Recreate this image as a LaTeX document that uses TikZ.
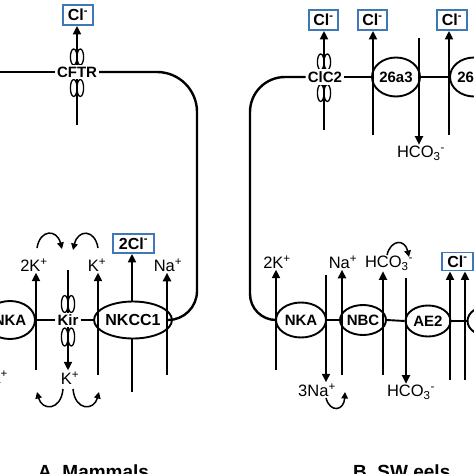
\documentclass[tikz,border=0pt]{standalone}
\usepackage{fontspec}
\setmainfont{Liberation Sans}
\usetikzlibrary{arrows.meta,shapes.geometric}
\definecolor{boxblue}{RGB}{62,120,182}

\begin{document}
\begin{tikzpicture}[x=1pt, y=-1pt,
     every node/.style={font=\fontsize{16.5}{18}\selectfont, inner sep=1pt},
     mem/.style={line width=2.4pt},
     link/.style={line width=1.9pt},
     flux/.style={line width=1.9pt, -{Triangle[length=8.5pt,width=8pt]}},
     swap/.style={line width=1.5pt, -{Triangle[length=6.5pt,width=6.5pt]}},
     pump/.style={ellipse, draw, line width=1.9pt, fill=white, inner sep=0pt, font=\fontsize{15}{16}\selectfont\bfseries},
     chan/.style={fill=white, inner sep=2pt, font=\fontsize{15}{16}\selectfont\bfseries},
     coil/.style={line width=1.3pt},
     ion/.style={draw=boxblue, line width=1.8pt, minimum height=20pt, inner sep=2.5pt, font=\fontsize{16}{17}\selectfont\bfseries},
     title/.style={font=\fontsize{19}{20}\selectfont\bfseries}]

  \useasboundingbox (0,0) rectangle (474,474);

  % ---------- A  Mammals ----------
  % apical side
  \node[chan] (cftr) at (77,72) {CFTR};
  \node[ion, minimum width=30pt] (clA) at (78,15) {Cl\textsuperscript{-}};
  \coordinate (cftrIn) at (77,125);
  \draw[flux] (cftrIn) -- (cftrIn |- clA.south);
  \foreach \dx in {-3.3,3.3} {
    \draw[coil] (77+\dx,57) ellipse (3.3 and 8);
    \draw[coil] (77+\dx,88) ellipse (3.3 and 8.5);
  }
  \node[chan] at (cftr) {CFTR};

  % basolateral side
  \node[pump, minimum width=50pt, minimum height=38pt] (nkaA) at (10,320) {NKA};
  \node[pump, minimum width=70pt, minimum height=37pt, font=\fontsize{16}{17}\selectfont\bfseries] (nkcc) at (133,320) {NKCC1};
  \node[chan] (kir) at (68,320) {Kir};
  \draw[mem] (0,72) -- (cftr.west);
  \draw[mem, rounded corners=40pt] (cftr.east) -- (197,72) -- (197,291);
  \draw[mem] (197,291) arc[start angle=0, end angle=90, radius=29] -- (nkcc.east);
  \draw[link] (nkaA.east) -- (kir.west);
  \draw[link] (kir.east) -- (nkcc.west);

  \node (k2A) at (34,265) {2K\textsuperscript{+}};
  \node (kA) at (97,265) {K\textsuperscript{+}};
  \node[ion, minimum width=41pt, minimum height=19pt] (cl2A) at (133.5,243.5) {2Cl\textsuperscript{-}};
  \node (naA) at (168,265) {Na\textsuperscript{+}};
  \node (kOut) at (70,378) {K\textsuperscript{+}};
  \node[anchor=east] (na3A) at (9,377) {3Na\textsuperscript{+}};

  \coordinate (k2Ain) at (36,370);
  \coordinate (kAin) at (98,375);
  \coordinate (clAin) at (132,392);
  \coordinate (naAin) at (167,375);
  \coordinate (kirTop) at (68,270);
  \draw[flux] (k2Ain) -- (k2Ain |- k2A.south);
  \draw[flux] (kAin) -- (kAin |- kA.south);
  \draw[link] (clAin) -- (clAin |- nkcc.south);
  \draw[flux] (clAin |- nkcc.north) -- (clAin |- cl2A.south);
  \draw[flux] (naAin) -- (naAin |- naA.south);
  \draw[flux] (kirTop) -- (kirTop |- kOut.north);
  \foreach \dx in {-3.3,3.3} {
    \draw[coil] (68+\dx,304) ellipse (3.3 and 8.5);
    \draw[coil] (68+\dx,337) ellipse (3.3 and 9);
  }
  \node[chan] at (kir) {Kir};

  % K+ recycling
  \coordinate (r1) at (37,248);  \coordinate (r2) at (62,249);
  \coordinate (r3) at (98,248);  \coordinate (r4) at (73,250);
  \coordinate (r5) at (63,389);  \coordinate (r6) at (37,392);
  \coordinate (r7) at (73,389);  \coordinate (r8) at (99,392);
  \draw[swap] (r1) .. controls (40,229) and (57,229) .. (r2);
  \draw[swap] (r3) .. controls (95,229) and (78,229) .. (r4);
  \draw[swap] (r5) .. controls (61,411) and (42,411) .. (r6);
  \draw[swap] (r7) .. controls (75,411) and (94,411) .. (r8);

  \node[title, anchor=west] (titleA) at (37,472) {A\ \ Mammals};

  % ---------- B  SW eels ----------
  % apical side
  \node[chan] (clc) at (325,77) {ClC2};
  \node[pump, minimum width=48pt, minimum height=39pt] (a3) at (396,77) {26a3};
  \node[pump, minimum width=48pt, minimum height=39pt] (a6) at (474,77) {26a6};
  \draw[link] (clc.east) -- (a3.west);
  \draw[link] (a3.east) -- (a6.west);

  \node[ion, minimum width=29pt] (clB1) at (323.5,20) {Cl\textsuperscript{-}};
  \node[ion, minimum width=29pt] (clB2) at (372.5,20) {Cl\textsuperscript{-}};
  \node[ion, minimum width=30pt] (clB3) at (452,20) {Cl\textsuperscript{-}};
  \node (hcoB1) at (421,153) {HCO\textsubscript{3}\textsuperscript{-}};

  \coordinate (clcIn) at (324,130);
  \coordinate (a3In) at (373,135);
  \coordinate (a3Top) at (419,38);
  \coordinate (a6In) at (449,135);
  \draw[flux] (clcIn) -- (clcIn |- clB1.south);
  \draw[flux] (a3In) -- (a3In |- clB2.south);
  \draw[flux] (a3Top) -- (a3Top |- hcoB1.north);
  \draw[flux] (a6In) -- (a6In |- clB3.south);
  \foreach \dx in {-3.3,3.3} {
    \draw[coil] (324+\dx,62) ellipse (3.3 and 8);
    \draw[coil] (324+\dx,93) ellipse (3.3 and 8.5);
  }
  \node[chan] at (clc) {ClC2};

  % basolateral side
  \node[pump, minimum width=50pt, minimum height=35pt] (nkaB) at (301,320) {NKA};
  \node[pump, minimum width=42pt, minimum height=30pt] (nbc) at (363,320) {NBC};
  \node[pump, minimum width=45pt, minimum height=31pt] (ae2) at (428,321) {AE2};
  \node[pump, minimum width=45pt, minimum height=31pt] (nxt) at (490,321) {};
  \draw[mem, rounded corners=35pt] (clc.west) -- (250,77) -- (250,294);
  \draw[mem] (250,294) arc[start angle=180, end angle=90, radius=26] -- (nkaB.west);
  \draw[link] (nkaB.east) -- (nbc.west);
  \draw[link] (nbc.east) -- (ae2.west);
  \draw[link] (ae2.east) -- (nxt.west);

  \node (k2B) at (277,262) {2K\textsuperscript{+}};
  \node (naB) at (343,262) {Na\textsuperscript{+}};
  \node (hcoB2) at (389,263) {HCO\textsubscript{3}\textsuperscript{-}};
  \node[ion, minimum width=31pt, minimum height=18pt] (clB4) at (457.5,261.5) {Cl\textsuperscript{-}};
  \node (na3B) at (317,390) {3Na\textsuperscript{+}};
  \node (hcoB3) at (411,392) {HCO\textsubscript{3}\textsuperscript{-}};

  \coordinate (k2Bin) at (276,370);
  \coordinate (naBtop) at (326,275);
  \coordinate (naBin) at (342,375);
  \coordinate (hcoBin) at (383,375);
  \coordinate (ae2Top) at (406,278);
  \coordinate (clBin1) at (450,380);
  \coordinate (clBin2) at (465,380);
  \draw[flux] (k2Bin) -- (k2Bin |- k2B.south);
  \draw[flux] (naBtop) -- (naBtop |- na3B.north);
  \draw[flux] (naBin) -- (naBin |- naB.south);
  \draw[flux] (hcoBin) -- (hcoBin |- hcoB2.south);
  \draw[flux] (ae2Top) -- (ae2Top |- hcoB3.north);
  \draw[flux] (clBin1) -- (clBin1 |- clB4.south);
  \draw[flux] (clBin2) -- (clBin2 |- clB4.south);

  \coordinate (s1) at (326,398);  \coordinate (s2) at (345,392);
  \coordinate (s3) at (387,255);  \coordinate (s4) at (409,257);
  \draw[swap] (s1) .. controls (330,413) and (344,411) .. (s2);
  \draw[swap] (s3) .. controls (391,239) and (405,239) .. (s4);

  \node[title, anchor=west] (titleB) at (352,472) {B\ \ SW eels};
\end{tikzpicture}
\end{document}
